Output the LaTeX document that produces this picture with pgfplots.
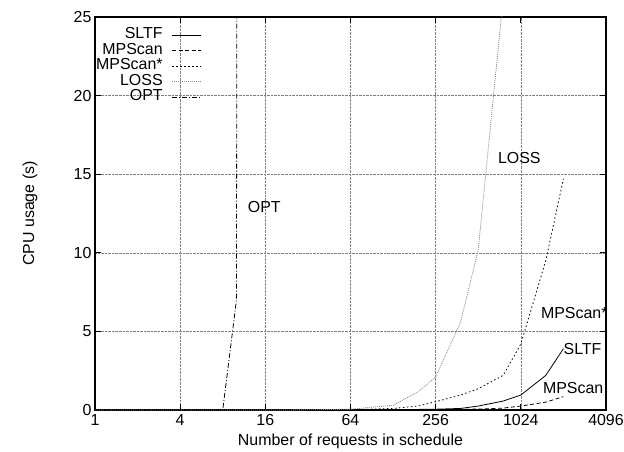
\documentclass[border=0pt]{standalone}
\usepackage{fontspec}
\setmainfont{Liberation Sans}
\usepackage{pgfplots}
\pgfplotsset{compat=1.18}

\newcommand{\gfont}{\fontsize{16}{18}\selectfont}

\begin{document}
\begin{tikzpicture}
\begin{axis}[
    scale only axis, width=511bp, height=393bp,
    clip mode=individual,
    xmode=log, log basis x=2, xmin=1, xmax=4096,
    ymin=0, ymax=25,
    xtick={1,4,16,64,256,1024,4096},
    xticklabels={1,4,16,64,256,1024,4096},
    ytick={0,5,10,15,20,25},
    xminorticks=false, yminorticks=false,
    grid=major,
    major grid style={densely dotted, black!50, line width=0.6bp},
    tick align=inside, major tick length=6bp,
    tick style={black, line width=0.8bp},
    axis line style={line width=1.1bp},
    ticklabel style={font=\gfont},
    /pgf/number format/assume math mode=true,
    xticklabel style={yshift=-1bp},
    xlabel={Number of requests in schedule},
    ylabel={CPU usage (s)},
    xlabel style={font=\gfont, at={(axis description cs:0.5,-0.079)}, anchor=center},
    ylabel style={font=\gfont, at={(axis description cs:-0.127,0.5)}, anchor=center},
    legend cell align=right, legend plot pos=right,
    legend image code/.code={\draw[#1] (0bp,0bp) -- (29bp,0bp);},
    legend style={draw=none, fill=none, font=\gfont,
        at={(rel axis cs:0,1)}, anchor=north west, xshift=0bp, yshift=-10bp,
        inner sep=0pt, row sep=0pt, column sep=8bp,
        nodes={inner sep=1bp, text height=10.5bp, text depth=3bp}},
]
\addplot[black, line width=0.8bp] coordinates {
(1,0) (2,0) (4,0) (8,0) (16,0) (32,0.005) (64,0.01) (128,0.02) (256,0.05)
(384,0.1) (512,0.25) (768,0.57) (1024,0.95) (1536,2.2) (2048,3.9)};
\addlegendentry{SLTF}
\addplot[black, line width=0.8bp, dash pattern=on 4bp off 2.5bp] coordinates {
(1,0) (2,0) (4,0) (8,0) (16,0) (32,0) (64,0.005) (128,0.01) (256,0.02)
(384,0.04) (512,0.06) (768,0.12) (1024,0.25) (1536,0.5) (2048,0.85)};
\addlegendentry{MPScan}
\addplot[black, line width=0.8bp, dash pattern=on 1.5bp off 2.5bp] coordinates {
(1,0) (2,0) (4,0) (8,0) (16,0) (32,0.005) (64,0.02) (128,0.1) (192,0.25)
(256,0.53) (384,0.95) (512,1.35) (768,2.2) (1024,4.2) (1536,9.5) (2048,14.7)};
\addlegendentry{MPScan*}
\addplot[black!45, line width=0.8bp, dash pattern=on 1bp off 1bp] coordinates {
(1,0) (2,0) (4,0) (8,0) (16,0) (32,0.01) (64,0.05) (128,0.3) (192,1.15)
(256,2.1) (384,5.6) (512,10.2) (768,26.2)};
\addlegendentry{LOSS}
\addplot[black, line width=0.8bp, dash pattern=on 5bp off 2bp on 1bp off 2bp] coordinates {
(1,0) (2,0) (4,0) (8,0) (10,7) (11,300)};
\addlegendentry{OPT}

\node[anchor=west, inner sep=0pt, font=\gfont] at (axis cs:12,12.9) {OPT};
\node[anchor=west, inner sep=0pt, font=\gfont] at (axis cs:704,16.0) {LOSS};
\node[anchor=west, inner sep=0pt, font=\gfont] at (axis cs:1418,6.2) {MPScan*};
\node[anchor=west, inner sep=0pt, font=\gfont] at (axis cs:2048,3.9) {SLTF};
\node[anchor=west, inner sep=0pt, font=\gfont] at (axis cs:1465,1.4) {MPScan};
\end{axis}
\pgfresetboundingbox
\useasboundingbox ([shift={(-95bp,-42bp)}]current axis.south west) rectangle ([shift={(18bp,17bp)}]current axis.north east);
\end{tikzpicture}
\end{document}
